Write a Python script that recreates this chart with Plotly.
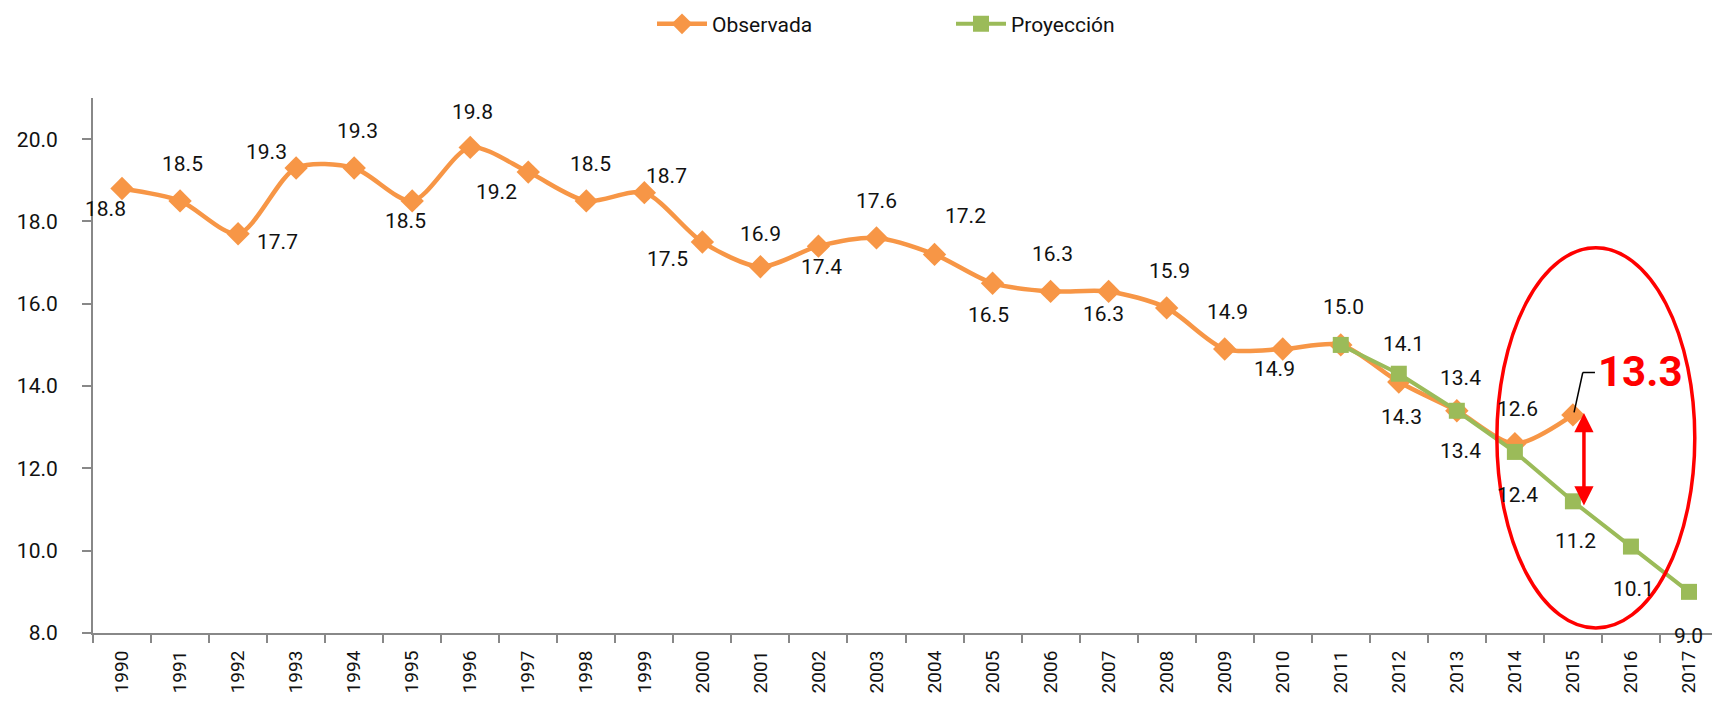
import plotly.graph_objects as go

years = [str(y) for y in range(1990, 2018)]
obs_years = years[:26]
obs_values = [18.8, 18.5, 17.7, 19.3, 19.3, 18.5, 19.8, 19.2, 18.5, 18.7,
              17.5, 16.9, 17.4, 17.6, 17.2, 16.5, 16.3, 16.3, 15.9, 14.9,
              14.9, 15.0, 14.1, 13.4, 12.6, 13.3]

proj_years = years[21:]
proj_values = [15.0, 14.3, 13.4, 12.4, 11.2, 10.1, 9.0]

highlight_value = "13.3"

# label offsets in pixels (style only): (dx, dy) with dy positive = downward
obs_label_offsets = [(-17, 20), (2, -37), (39, 8), (-30, -16), (3, -37), (-7, 20),
                     (2, -35), (-32, 20), (4, -37), (22, -17), (-35, 17), (0, -33),
                     (3, 21), (0, -37), (31, -38), (-4, 32), (2, -37), (-5, 23),
                     (3, -37), (3, -37), (-8, 20), (3, -38), (5, -38), (4, -33),
                     (3, -35), None]
proj_label_offsets = [None, (3, 43), (4, 40), (3, 43), (3, 40), (3, 42), (0, 44)]

FONT = "Roboto"
ORANGE = "#F79646"
GREEN = "#9BBB59"
LABEL_SIZE = 21

fig = go.Figure()
fig.add_trace(go.Scatter(
    x=obs_years, y=obs_values, name="Observada", mode="lines+markers",
    line=dict(color=ORANGE, width=4.5, shape="spline", smoothing=0.8),
    marker=dict(symbol="diamond", size=18, color=ORANGE),
    cliponaxis=False,
))
fig.add_trace(go.Scatter(
    x=proj_years, y=proj_values, name="Proyección", mode="lines+markers",
    line=dict(color=GREEN, width=4),
    marker=dict(symbol="square", size=16, color=GREEN),
    cliponaxis=False,
))

for xs, ys, offs in [(obs_years, obs_values, obs_label_offsets),
                     (proj_years, proj_values, proj_label_offsets)]:
    for xv, yv, off in zip(xs, ys, offs):
        if off is None:
            continue
        fig.add_annotation(x=years.index(xv), y=yv, xref="x", yref="y", text=f"{yv:.1f}",
                           showarrow=False, xshift=off[0], yshift=-off[1],
                           font=dict(family=FONT, size=LABEL_SIZE, color="#111"))

# red ellipse
fig.add_shape(type="circle", xref="x", yref="y", x0=23.69, x1=27.1, y0=8.12, y1=17.36,
              line=dict(color="red", width=3.5))
# leader line for the highlighted value
fig.add_shape(type="line", xref="x", yref="y", x0=25.02, y0=13.36, x1=25.17, y1=14.33,
              line=dict(color="black", width=1.5))
fig.add_shape(type="line", xref="x", yref="y", x0=25.17, y0=14.33, x1=25.38, y1=14.33,
              line=dict(color="black", width=1.5))
# double arrow
fig.add_annotation(x=25.19, y=11.1, ax=25.19, ay=13.38, xref="x", yref="y",
                   axref="x", ayref="y", text="", showarrow=True,
                   arrowhead=2, startarrowhead=2, arrowside="end+start",
                   arrowsize=1.1, arrowwidth=3.5, arrowcolor="red")
fig.add_annotation(x=26.15, y=14.35, xref="x", yref="y", text=f"<b>{highlight_value}</b>",
                   showarrow=False, font=dict(family=FONT, size=42, color="red"))

fig.update_layout(
    width=1720, height=702,
    margin=dict(l=85, r=10, t=90, b=77, autoexpand=False),
    paper_bgcolor="white", plot_bgcolor="white",
    font=dict(family=FONT, size=18, color="#111"),
    showlegend=True,
    legend=dict(orientation="h", x=0.344, xanchor="left", y=0.977, yref="container",
                yanchor="middle", font=dict(family=FONT, size=21, color="#111"),
                entrywidth=234, entrywidthmode="pixels", itemwidth=50,
                tracegroupgap=0),
)
fig.update_xaxes(
    type="category", range=[-0.5, 27.5], tickson="boundaries", ticks="outside",
    ticklen=8, tickcolor="#888", tickwidth=2, showline=True, linecolor="#888",
    linewidth=2, showgrid=False, tickangle=-90, ticklabelstandoff=8,
    tickfont=dict(family=FONT, size=19, color="#111"),
)
fig.update_yaxes(
    range=[8, 21], tickvals=[8, 10, 12, 14, 16, 18, 20], tickformat=".1f",
    ticks="outside", ticklen=9, tickcolor="#888", tickwidth=2, showline=True,
    linecolor="#888", linewidth=2, showgrid=False, zeroline=False,
    ticklabelstandoff=20, tickfont=dict(family=FONT, size=21, color="#111"),
)

fig.write_html("out.html")
